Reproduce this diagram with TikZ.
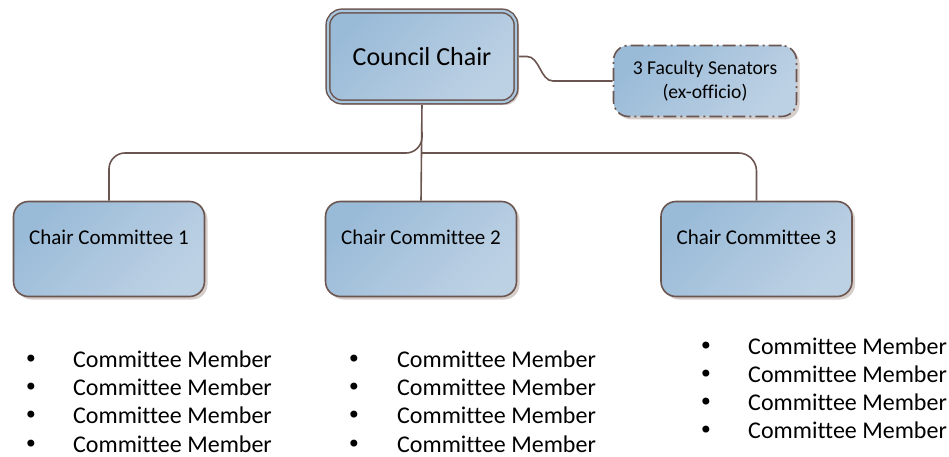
\documentclass[tikz,border=0pt]{standalone}
\usepackage{fontspec}
\setmainfont{Carlito}[Ligatures={NoCommon}]
\newfontfamily\djv{DejaVu Sans}
\usetikzlibrary{shadows,backgrounds}
\definecolor{brd}{HTML}{6B5550}
\definecolor{bA}{HTML}{9ABBD8}
\definecolor{bB}{HTML}{BDD1E4}
\definecolor{bM}{HTML}{A9C6DF}
\definecolor{shd}{HTML}{D6CECA}
\begin{document}
\begin{tikzpicture}[x=1pt,y=-1pt,
  box/.style={draw=brd, line width=1.6pt, rounded corners=15pt,
    top color=bA, bottom color=bB, shading angle=45, inner sep=0pt,
    drop shadow={shadow xshift=3pt, shadow yshift=-3pt, fill=shd, opacity=1}},
  chairbox/.style={box, minimum width=191pt, minimum height=95pt,
    font=\fontsize{21}{25}\selectfont, text height=15pt, text depth=25pt},
  conn/.style={draw=brd, line width=1.6pt},
  memtext/.style={font=\fontsize{24}{28}\selectfont, inner sep=0pt, anchor=base west},
  bultext/.style={font=\djv\fontsize{24}{28}\selectfont, inner sep=0pt, anchor=base}]
\useasboundingbox (0,0) rectangle (949,457);

% boxes
\node[box, line width=1.5pt, double=bM, double distance=2.2pt, rounded corners=14pt,
  minimum width=188pt, minimum height=91pt,
  font=\fontsize{26}{30}\selectfont] (cc) at (422,56.5) {Council Chair};

\node[box, dash pattern=on 13pt off 4pt on 2pt off 4pt, minimum width=183pt, minimum height=71pt,
  align=center, font=\fontsize{19.6}{24}\selectfont] (sen) at (705,81)
  {3 Faculty Senators\\(ex-officio)};

\node[chairbox] (c1) at (109,249) {Chair Committee 1};
\node[chairbox] (c2) at (421,249) {Chair Committee 2};
\node[chairbox] (c3) at (756.5,249) {Chair Committee 3};

% connectors
\coordinate (j) at (422,153);
\coordinate (jl) at (422,132);
\coordinate (s1) at (527,56.5);
\coordinate (s2) at (553,81);
\begin{scope}[on background layer]
  \draw[conn] (cc.south) -- (c2.north);
  \draw[conn, rounded corners=16pt] (jl) |- (c1.north |- j) -- (c1.north);
  \draw[conn, rounded corners=18pt] (j) -| (c3.north);
  \draw[conn] (cc.east) -- (s1) to[out=0,in=180,looseness=0.9] (s2) -- (sen.west);
\end{scope}

% member lists
\foreach \k [evaluate=\k as \yy using 367+28.4*(\k-1)] in {1,2,3,4} {
  \node[bultext] (ba\k) at (31,\yy) {•};
  \node[memtext] (ma\k) at (73,\yy) {Committee Member};
  \node[bultext] (bb\k) at (354,\yy) {•};
  \node[memtext] (mb\k) at (397,\yy) {Committee Member};
}
\foreach \k [evaluate=\k as \yy using 354+28.2*(\k-1)] in {1,2,3,4} {
  \node[bultext] (bc\k) at (706,\yy) {•};
  \node[memtext] (mc\k) at (748,\yy) {Committee Member};
}
\end{tikzpicture}
\end{document}
